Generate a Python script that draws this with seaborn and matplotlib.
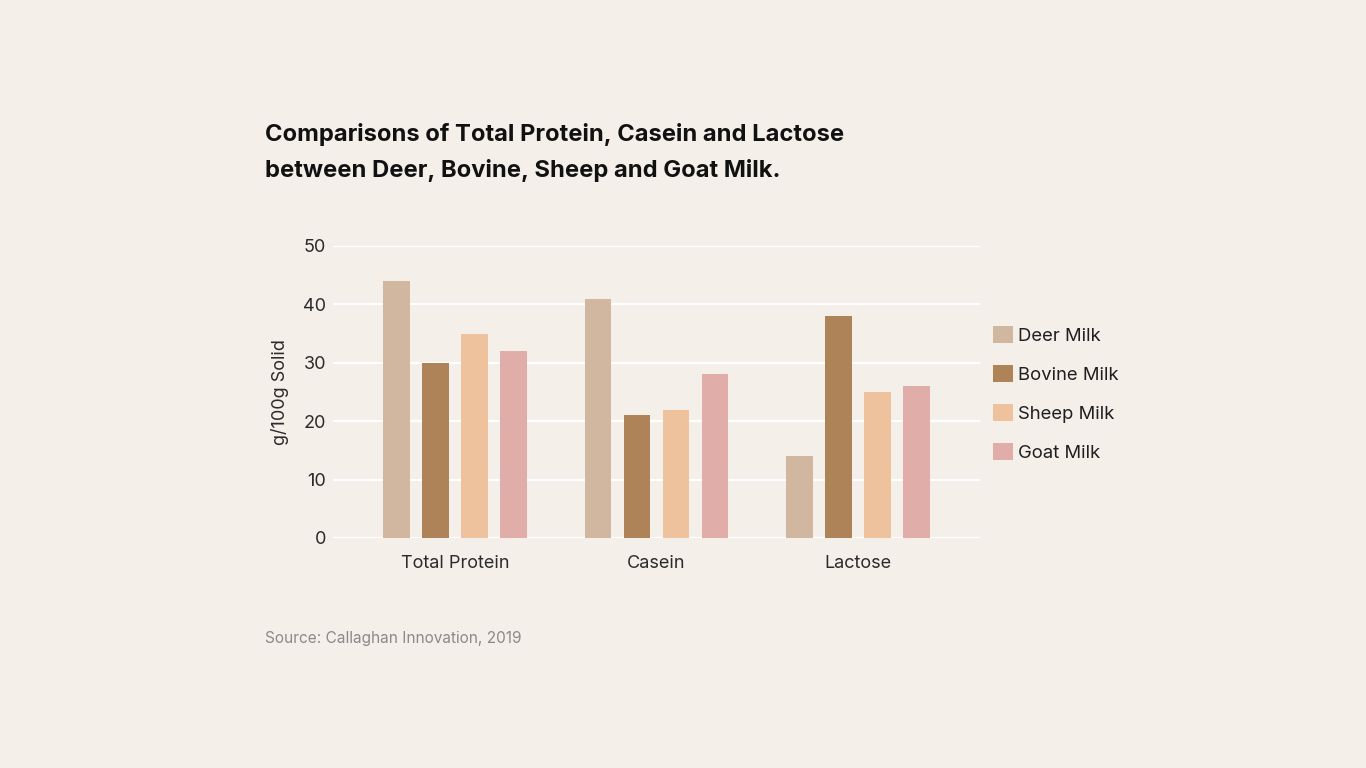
import pandas as pd
import seaborn as sns
import matplotlib.pyplot as plt

nutrients = ["Total Protein", "Casein", "Lactose"]
milks = ["Deer Milk", "Bovine Milk", "Sheep Milk", "Goat Milk"]
deer = [44, 41, 14]
bovine = [30, 21, 38]
sheep = [35, 22, 25]
goat = [32, 28, 26]
colors = ["#D2B7A0", "#AD8357", "#EDC29C", "#E0ADA8"]

bg = "#F5EFEA"

rows = []
for milk, vals in zip(milks, [deer, bovine, sheep, goat]):
    for nut, v in zip(nutrients, vals):
        rows.append({"Nutrient": nut, "Milk": milk, "Value": v})
df = pd.DataFrame(rows)

sns.set_theme(style="white")
plt.rcParams["font.family"] = ["Inter", "DejaVu Sans"]

fig = plt.figure(figsize=(13.66, 7.68), dpi=100, facecolor=bg)
ax = fig.add_axes([333 / 1366, 1 - 538 / 768, 647 / 1366, 292 / 768])
ax.set_facecolor(bg)

sns.barplot(data=df, x="Nutrient", y="Value", hue="Milk", order=nutrients,
            hue_order=milks, palette=colors, width=0.774, gap=0.31,
            saturation=1, edgecolor="none", ax=ax)

ax.set_ylim(0, 50)
ax.set_xlim(-0.605, 2.605)
ax.set_yticks(range(0, 51, 10))
ax.yaxis.grid(True, color="white", linewidth=1.6)
ax.set_axisbelow(True)
for s in ax.spines.values():
    s.set_visible(False)
ax.tick_params(axis="both", length=0, labelsize=13, colors="#2b2b2b")
ax.tick_params(axis="y", pad=5)
ax.tick_params(axis="x", pad=12)
ax.set_xlabel("")
ax.set_ylabel("g/100g Solid", fontsize=13, color="#2b2b2b", labelpad=10)

sns.move_legend(ax, "upper left", bbox_to_anchor=(1.02, 0.727), frameon=False,
                title=None, fontsize=13.3, labelspacing=1.08, handlelength=1.08,
                handleheight=1.08, handletextpad=0.28, borderpad=0, borderaxespad=0,
                labelcolor="#1f1f1f")

fig.text(265 / 1366, 1 - 123 / 768,
         "Comparisons of Total Protein, Casein and Lactose\nbetween Deer, Bovine, Sheep and Goat Milk.",
         fontsize=17.1, fontweight="bold", color="#111111", ha="left", va="top",
         linespacing=1.7)
fig.text(265 / 1366, 1 - 639 / 768, "Source: Callaghan Innovation, 2019",
         fontsize=11.1, color="#8a8a8a", ha="left", va="center")

fig.savefig("out.png", dpi=100, facecolor=bg)
